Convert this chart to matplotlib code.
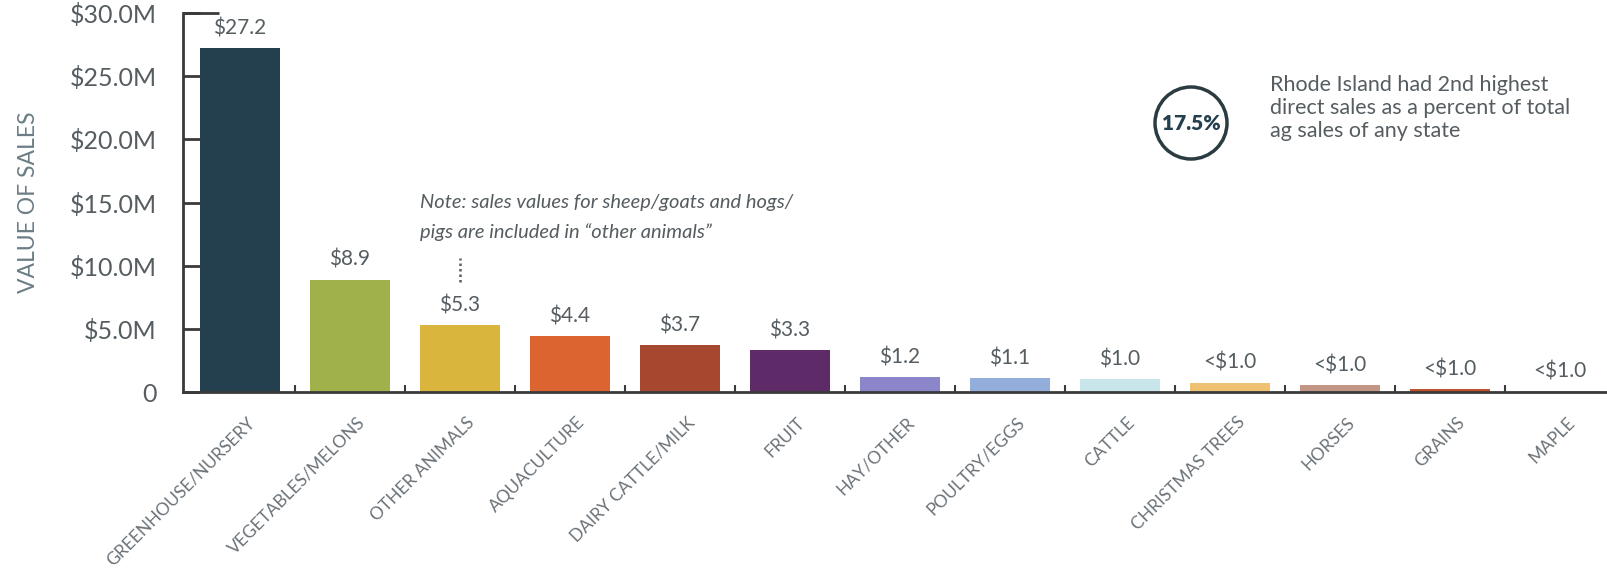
import matplotlib
matplotlib.use("Agg")
import matplotlib.pyplot as plt
from matplotlib.patches import Circle
from matplotlib.transforms import ScaledTranslation
from matplotlib.ticker import FuncFormatter

plt.rcParams['font.family'] = ['Lato', 'DejaVu Sans']

# Direct sales by commodity ($ millions)
categories = ['GREENHOUSE/NURSERY', 'VEGETABLES/MELONS', 'OTHER ANIMALS', 'AQUACULTURE',
              'DAIRY CATTLE/MILK', 'FRUIT', 'HAY/OTHER', 'POULTRY/EGGS', 'CATTLE',
              'CHRISTMAS TREES', 'HORSES', 'GRAINS', 'MAPLE']
sales = [27.2, 8.9, 5.3, 4.4, 3.7, 3.3, 1.2, 1.1, 1.0, 0.75, 0.55, 0.25, 0.05]
value_labels = ['$27.2', '$8.9', '$5.3', '$4.4', '$3.7', '$3.3', '$1.2', '$1.1', '$1.0',
                '<$1.0', '<$1.0', '<$1.0', '<$1.0']
bar_colors = ['#243f4d', '#a0b04a', '#d9b53e', '#dc6430', '#a5482f', '#5e2a68', '#8a86c9',
              '#93aedb', '#c9e5ec', '#efc173', '#c39585', '#c2502c', '#9a9a8a']
y_ticks = [0, 5, 10, 15, 20, 25, 30]

axis_col = '#3a3a3a'
text_col = '#555d61'

fig = plt.figure(figsize=(16.08, 5.70), dpi=100)
ax = fig.add_axes([183 / 1608, 178 / 570, 1 - 183 / 1608, 379 / 570])

x = list(range(len(categories)))
ax.bar(x, sales, width=0.72, color=bar_colors)

for xi, v, lab in zip(x, sales, value_labels):
    ax.annotate(lab, (xi, v), xytext=(0, 7), textcoords='offset points',
                ha='center', va='bottom', fontsize=15, color=text_col)

ax.set_xlim(-0.518, 12.436)
ax.set_ylim(0, 30)

for s in ['top', 'right']:
    ax.spines[s].set_visible(False)
for s in ['left', 'bottom']:
    ax.spines[s].set_color(axis_col)
    ax.spines[s].set_linewidth(2)

# y axis
ax.set_yticks(y_ticks)
ax.yaxis.set_major_formatter(FuncFormatter(lambda v, p: '0' if v == 0 else f'${v:.1f}M'))
ax.tick_params(axis='y', direction='in', length=12, width=2, color=axis_col,
               labelsize=18, labelcolor=text_col, pad=19)
ax.plot([-0.518, -0.19], [30, 30], color=axis_col, lw=2, clip_on=False, solid_capstyle='butt')
ax.set_ylabel('VALUE OF SALES', fontsize=16.5, color='#6b7d85', labelpad=22)

# x axis: separators between bars, labels under bar centres
ax.set_xticks([i + 0.5 for i in range(len(categories) - 1)])
ax.set_xticklabels([])
ax.tick_params(axis='x', which='major', direction='in', length=5, width=1.5, color=axis_col)
ax.set_xticks(x, minor=True)
ax.set_xticklabels(categories, minor=True, rotation=45, ha='right', va='center',
                   rotation_mode='anchor', fontsize=12.5, color='#6a7278')
ax.tick_params(axis='x', which='minor', length=0, pad=20)
shift = ScaledTranslation(0.12, 0, fig.dpi_scale_trans)
for t in ax.get_xticklabels(minor=True):
    t.set_transform(t.get_transform() + shift)

# note about other animals
ax.text(1.64, 15.7, 'Note: sales values for sheep/goats and hogs/\npigs are included in \u201cother animals\u201d',
        ha='left', va='top', fontsize=14.5, style='italic', color=text_col, linespacing=1.85)
ax.plot([2.0, 2.0], [8.7, 10.6], color=text_col, lw=1.8, ls=(0, (1, 1.2)))

# callout
circ = Circle((11.91, 5.70 - 1.23), 0.36, transform=fig.dpi_scale_trans,
              fill=False, edgecolor='#2a3b42', lw=2.5)
fig.add_artist(circ)
fig.text(1191 / 1608, 1 - 123 / 570, '17.5%', ha='center', va='center',
         fontsize=15, fontweight='heavy', color='#243f4d')
fig.text(1270 / 1608, 1 - 108 / 570,
         'Rhode Island had 2nd highest\ndirect sales as a percent of total\nag sales of any state',
         ha='left', va='center', fontsize=15.5, color=text_col, linespacing=1.2)

fig.savefig('out.png', dpi=100)
